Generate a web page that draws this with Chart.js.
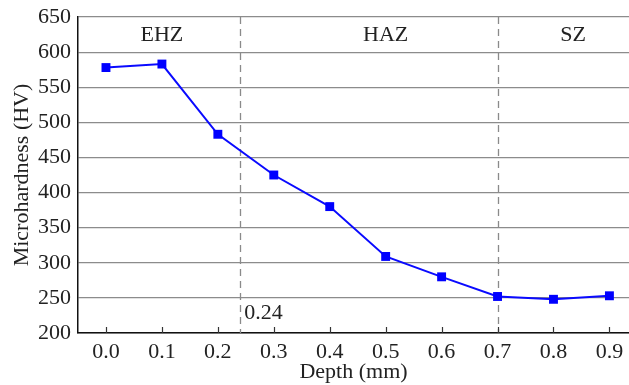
<!DOCTYPE html>
<html>
<head>
<meta charset="utf-8">
<script src="https://cdn.jsdelivr.net/npm/chart.js@4/dist/chart.umd.min.js"></script>
<style>
  html, body { margin: 0; padding: 0; background: #fff; }
  #wrap { width: 629px; height: 385px; }
</style>
</head>
<body>
<div id="wrap"><canvas id="lineChart"></canvas></div>
<script>
// data
const depth = [0.0, 0.1, 0.2, 0.3, 0.4, 0.5, 0.6, 0.7, 0.8, 0.9];
const hardness = [578, 583, 483, 425, 380, 309, 280, 252, 248, 253];
const xTicks = [0.0, 0.1, 0.2, 0.3, 0.4, 0.5, 0.6, 0.7, 0.8, 0.9];
const yTicks = [200, 250, 300, 350, 400, 450, 500, 550, 600, 650];
const zoneBounds = [0.24, 0.7];
const zoneNames = ['EHZ', 'HAZ', 'SZ'];
const zoneLabelX = [0.1, 0.5, 0.835];

const serif = '"Liberation Serif", "Times New Roman", serif';

// dashed boundaries, zone names, inner tick marks
const zonePlugin = {
    id: 'zones',
    beforeDatasetsDraw(chart) {
        const ctx = chart.ctx;
        const xs = chart.scales.x;
        const area = chart.chartArea;
        ctx.save();
        ctx.strokeStyle = '#8a8a8a';
        ctx.lineWidth = 1.3;
        ctx.setLineDash([7, 5]);
        zoneBounds.forEach(v => {
            const px = Math.round(xs.getPixelForValue(v)) + 0.5;
            ctx.beginPath();
            ctx.moveTo(px, area.top);
            ctx.lineTo(px, area.bottom);
            ctx.stroke();
        });
        ctx.restore();
    },
    afterDraw(chart) {
        const ctx = chart.ctx;
        const xs = chart.scales.x;
        const ys = chart.scales.y;
        const area = chart.chartArea;
        ctx.save();
        // tick marks pointing into the plot
        ctx.strokeStyle = '#333';
        ctx.lineWidth = 1.2;
        ctx.setLineDash([]);
        xTicks.forEach(v => {
            const px = Math.round(xs.getPixelForValue(v)) + 0.5;
            ctx.beginPath();
            ctx.moveTo(px, area.bottom);
            ctx.lineTo(px, area.bottom - 6);
            ctx.stroke();
        });
        ctx.fillStyle = '#222';
        ctx.font = '22px ' + serif;
        ctx.textAlign = 'center';
        ctx.textBaseline = 'middle';
        zoneNames.forEach((name, i) => {
            ctx.fillText(name, xs.getPixelForValue(zoneLabelX[i]), ys.getPixelForValue(624));
        });
        ctx.textAlign = 'left';
        ctx.fillText(String(zoneBounds[0]), xs.getPixelForValue(zoneBounds[0]) + 4, ys.getPixelForValue(228));
        ctx.restore();
    }
};

new Chart(document.getElementById('lineChart'), {
    type: 'line',
    data: {
        datasets: [{
            label: 'Microhardness',
            data: depth.map((d, i) => ({ x: d, y: hardness[i] })),
            borderColor: '#0a0aff',
            backgroundColor: '#0000ff',
            borderWidth: 2,
            pointStyle: 'rect',
            pointRadius: 6.3,
            pointBorderWidth: 0,
            tension: 0
        }]
    },
    options: {
        responsive: true,
        maintainAspectRatio: false,
        animation: false,
        layout: { autoPadding: false, padding: { left: 0, right: 0, top: 17, bottom: 0 } },
        plugins: {
            legend: { display: false },
            tooltip: { enabled: false }
        },
        scales: {
            x: {
                type: 'linear',
                min: -0.05,
                max: 0.935,
                afterBuildTicks: s => { s.ticks = xTicks.map(v => ({ value: v })); },
                afterFit: s => { s.height = 52; s.paddingLeft = 0; s.paddingRight = 0; },
                ticks: {
                    color: '#222',
                    font: { family: serif, size: 22 },
                    padding: 6,
                    maxRotation: 0,
                    callback: v => Number(v).toFixed(1)
                },
                grid: { display: false, drawTicks: false },
                border: { display: true, color: '#111', width: 1.5 },
                title: {
                    display: true,
                    text: 'Depth (mm)',
                    color: '#222',
                    font: { family: serif, size: 22 },
                    padding: { top: -7, bottom: 0 }
                }
            },
            y: {
                min: 200,
                max: 650,
                afterBuildTicks: s => { s.ticks = yTicks.map(v => ({ value: v })); },
                afterFit: s => { s.width = 78; s.paddingTop = 0; s.paddingBottom = 0; },
                ticks: {
                    color: '#222',
                    font: { family: serif, size: 22 },
                    padding: 7
                },
                grid: { color: '#8c8c8c', lineWidth: 1.2, drawTicks: false },
                border: { display: true, color: '#111', width: 1.5 },
                title: {
                    display: true,
                    text: 'Microhardness (HV)',
                    color: '#222',
                    font: { family: serif, size: 22 },
                    padding: { top: 9, bottom: 0 }
                }
            }
        }
    },
    plugins: [zonePlugin]
});
</script>
</body>
</html>
